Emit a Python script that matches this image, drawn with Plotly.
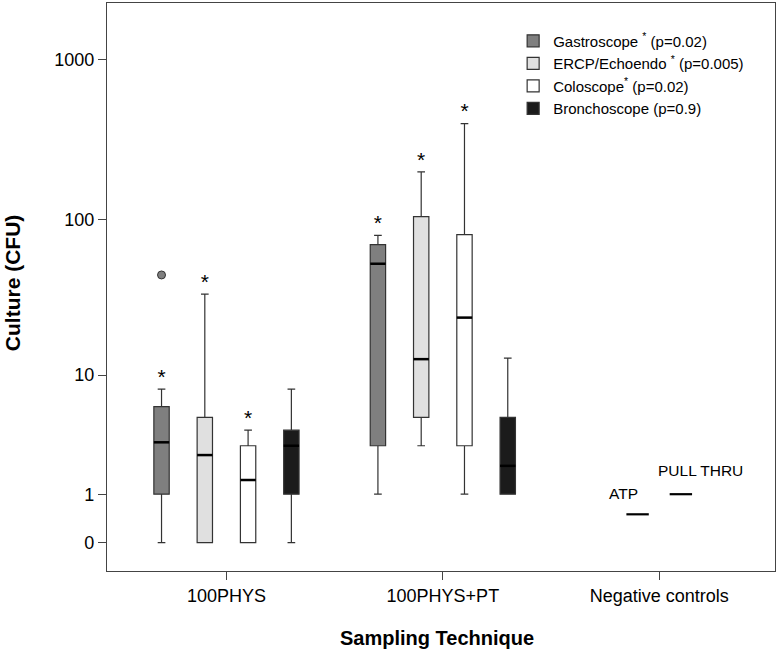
import numpy as np
import plotly.graph_objects as go

# ---------------- data ----------------
groups = ["100PHYS", "100PHYS+PT", "Negative controls"]
group_pos = [1, 2, 3]

series = ["Gastroscope", "ERCP/Echoendo", "Coloscope", "Bronchoscope"]
legend_names = ["Gastroscope <sup>*</sup> (p=0.02)", "ERCP/Echoendo <sup>*</sup> (p=0.005)",
                "Coloscope<sup>*</sup> (p=0.02)", "Bronchoscope (p=0.9)"]
fills = ["#7f7f7f", "#e0e0e0", "#ffffff", "#1b1b1b"]
series_offset = [-0.3, -0.1, 0.1, 0.3]      # position within a group
box_groups = [1, 2]                          # 100PHYS, 100PHYS+PT

# stats in CFU: [100PHYS, 100PHYS+PT]
lower = {"Gastroscope": [0, 1], "ERCP/Echoendo": [0, 3], "Coloscope": [0, 1], "Bronchoscope": [0, 1]}
q1 = {"Gastroscope": [1, 3], "ERCP/Echoendo": [0, 5], "Coloscope": [0, 3], "Bronchoscope": [1, 1]}
median = {"Gastroscope": [3.2, 53], "ERCP/Echoendo": [2.5, 12.8], "Coloscope": [1.45, 24], "Bronchoscope": [3.0, 2.0]}
q3 = {"Gastroscope": [6, 70], "ERCP/Echoendo": [5, 105], "Coloscope": [3, 81], "Bronchoscope": [4, 5]}
upper = {"Gastroscope": [8, 80], "ERCP/Echoendo": [34, 200], "Coloscope": [4, 400], "Bronchoscope": [8, 13]}
significant = {"Gastroscope": [True, True], "ERCP/Echoendo": [True, True],
               "Coloscope": [True, True], "Bronchoscope": [False, False]}

outlier_series = "Gastroscope"
outlier_group = 1
outlier_y = [45]

control_names = ["ATP", "PULL THRU"]
control_offset = [-0.1, 0.1]
control_y = [0.5, 1]

ytick_vals = [0, 1, 10, 100, 1000]
box_width = 0.071
FONT = "Liberation Sans, Arial, Helvetica, sans-serif"


def tr(v):
    return np.log10(np.asarray(v, dtype=float) + 1)


fig = go.Figure()

positions = {}
for s, off in zip(series, series_offset):
    positions[s] = [g + off for g in box_groups]

for s, name, col in zip(series, legend_names, fills):
    fig.add_trace(go.Box(
        x=positions[s], q1=tr(q1[s]), median=tr(median[s]), q3=tr(q3[s]),
        lowerfence=tr(lower[s]), upperfence=tr(upper[s]),
        width=box_width, whiskerwidth=0.5, fillcolor=col,
        line=dict(color="#333333", width=1.2), name=name, boxpoints=False,
        hoverinfo="skip",
    ))

# thick median lines
for s in series:
    mx, my = [], []
    for p, m in zip(positions[s], median[s]):
        mx += [p - box_width / 2, p + box_width / 2, None]
        my += [float(tr(m)), float(tr(m)), None]
    fig.add_trace(go.Scatter(x=mx, y=my, mode="lines", line=dict(color="black", width=2.5),
                             showlegend=False, hoverinfo="skip"))

# significance stars
sx, sy = [], []
for s in series:
    for p, u, sig in zip(positions[s], upper[s], significant[s]):
        if sig:
            sx.append(p)
            sy.append(float(tr(u)))
fig.add_trace(go.Scatter(x=sx, y=sy, mode="text", text=["*"] * len(sx), textposition="top center",
                         textfont=dict(size=21, color="black", family=FONT),
                         showlegend=False, hoverinfo="skip"))

# outlier
ox = [outlier_group + series_offset[series.index(outlier_series)]]
fig.add_trace(go.Scatter(x=ox, y=tr(outlier_y), mode="markers",
                         marker=dict(size=8, color="#7f7f7f", line=dict(color="#333333", width=1)),
                         showlegend=False, hoverinfo="skip"))

# negative controls
control_x = [3 + o for o in control_offset]
fig.add_trace(go.Scatter(x=control_x, y=tr(control_y), mode="markers",
                         marker=dict(symbol="line-ew", size=16, line=dict(color="black", width=2.2)),
                         showlegend=False, hoverinfo="skip"))
shifts = [(-14, 21), (20, 24)]
for n, x, y, (dx, dy) in zip(control_names, control_x, control_y, shifts):
    fig.add_annotation(x=x, y=float(tr(y)), text=n, showarrow=False, xshift=dx, yshift=dy,
                       font=dict(size=15.5, color="black", family=FONT))

# axis titles
fig.add_annotation(text="<b>Sampling Technique</b>", xref="paper", yref="paper",
                   x=0.494, y=-0.118, xanchor="center", yanchor="middle", showarrow=False,
                   font=dict(size=20, color="black", family=FONT))
fig.add_annotation(text="<b>Culture (CFU)</b>", xref="paper", yref="paper",
                   x=-0.142, y=0.507, xanchor="center", yanchor="middle", showarrow=False,
                   textangle=-90, font=dict(size=21, color="black", family=FONT))

fig.update_layout(
    width=780, height=653,
    margin=dict(l=107, r=5, t=3, b=82),
    paper_bgcolor="white", plot_bgcolor="white",
    font=dict(family=FONT, color="black"),
    boxmode="overlay",
    legend=dict(x=0.608, y=0.962, xanchor="left", yanchor="top", bgcolor="rgba(0,0,0,0)",
                font=dict(size=15), tracegroupgap=0, itemwidth=30),
    xaxis=dict(range=[0.448, 3.535], tickvals=group_pos, ticktext=groups, automargin=False,
               showline=True, linecolor="#444", linewidth=1.2, mirror=True,
               ticks="outside", ticklen=8, tickcolor="#444", showgrid=False, zeroline=False,
               tickfont=dict(size=18)),
    yaxis=dict(range=[-0.176, 3.352], tickvals=tr(ytick_vals), ticktext=[str(v) for v in ytick_vals],
               automargin=False,
               showline=True, linecolor="#444", linewidth=1.2, mirror=True,
               ticks="outside", ticklen=8, tickcolor="#444", showgrid=False, zeroline=False,
               tickfont=dict(size=18)),
)

fig.write_html("out.html", config={"displayModeBar": False},
               post_script="document.body.style.margin='0px';document.body.style.padding='0px';")
